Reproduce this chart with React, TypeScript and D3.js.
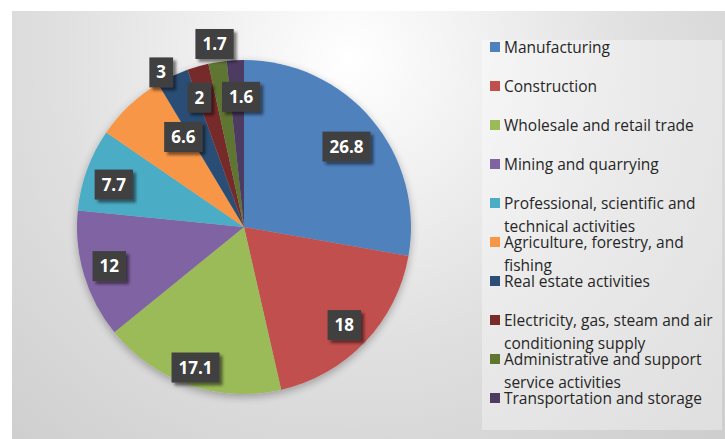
import React from "react";
import * as d3 from "d3";

const categories = [
  "Manufacturing",
  "Construction",
  "Wholesale and retail trade",
  "Mining and quarrying",
  "Professional, scientific and\ntechnical activities",
  "Agriculture, forestry, and\nfishing",
  "Real estate activities",
  "Electricity, gas, steam and air\nconditioning supply",
  "Administrative and support\nservice activities",
  "Transportation and storage",
];
const values = [26.8, 18, 17.1, 12, 7.7, 6.6, 3, 2, 1.7, 1.6];
const colors = [
  "#4F81BD", "#C0504D", "#9BBB59", "#8064A2", "#4BACC6",
  "#F79646", "#2C4D75", "#772C2A", "#5F7530", "#4D3B62",
];
// label placement (layout): distance as a fraction of the radius, angular shift in degrees
const labelRadius = [0.78, 0.84, 0.89, 0.84, 0.82, 0.65, 1.05, 0.82, 1.11, 0.78];
const labelShift = [1.9, 0.8, 0, 0.5, -2, 9.3, -2.8, -3, 0, 1.7];

const W = 725, H = 439;
const cx = 244, cy = 227, R = 167;

function textWidth(s: string, size: number) {
  let w = 0;
  for (const ch of s) w += ch === "." ? 0.285 : 0.572;
  return w * size;
}

export default function App() {
  const pie = d3.pie<number>().sort(null).value((d) => d)(values);
  const arc = d3.arc<d3.PieArcDatum<number>>().innerRadius(0).outerRadius(R);
  const legendTop = 47, legendStep = 39, lineH = 23.5;
  return (
    <svg width={W} height={H} style={{ position: "absolute", left: 0, top: 0 }}>
      <defs>
        <radialGradient id="bg" gradientUnits="userSpaceOnUse" cx={350} cy={60} r={520}>
          <stop offset="0" stopColor="#ffffff" />
          <stop offset="0.55" stopColor="#e0e0e0" />
          <stop offset="1" stopColor="#cecece" />
        </radialGradient>
        <filter id="pieShadow" x="-20%" y="-20%" width="140%" height="140%">
          <feGaussianBlur in="SourceAlpha" stdDeviation="4" />
          <feOffset dx="0" dy="3" result="b" />
          <feComponentTransfer><feFuncA type="linear" slope="0.3" /></feComponentTransfer>
          <feMerge><feMergeNode /><feMergeNode in="SourceGraphic" /></feMerge>
        </filter>
        <filter id="boxShadow" x="-30%" y="-30%" width="160%" height="160%">
          <feGaussianBlur in="SourceAlpha" stdDeviation="1.8" />
          <feOffset dx="2.5" dy="2.5" />
          <feComponentTransfer><feFuncA type="linear" slope="0.5" /></feComponentTransfer>
          <feMerge><feMergeNode /><feMergeNode in="SourceGraphic" /></feMerge>
        </filter>
      </defs>
      <rect x={0} y={0} width={W} height={H} fill="#ffffff" />
      <rect x={12} y={11} width={W - 12} height={H - 11} fill="url(#bg)" />
      <rect x={482} y={40} width={240} height={390} fill="#ffffff" fillOpacity={0.35} />
      <g transform={`translate(${cx},${cy})`} filter="url(#pieShadow)">
        {pie.map((p, i) => (
          <path key={i} d={arc(p) || ""} fill={colors[i]} />
        ))}
      </g>
      <g fontFamily="'Open Sans', sans-serif" fontWeight="bold" fontSize={17}>
        {pie.map((p, i) => {
          const a = (p.startAngle + p.endAngle) / 2 + (labelShift[i] * Math.PI) / 180;
          const r = R * labelRadius[i];
          const x = cx + r * Math.sin(a);
          const y = cy - r * Math.cos(a);
          const t = String(values[i]);
          const bw = textWidth(t, 17) + 14;
          const bh = 30;
          return (
            <g key={i}>
              <rect x={x - bw / 2} y={y - bh / 2} width={bw} height={bh} fill="#3f3f3f" filter="url(#boxShadow)" />
              <text x={x} y={y + 6} textAnchor="middle" fill="#ffffff">{t}</text>
            </g>
          );
        })}
      </g>
      <g fontFamily="'Open Sans', sans-serif" fontSize={15.5} fill="#262626">
        {categories.map((c, i) => {
          const yc = legendTop + legendStep * i;
          const lines = c.split("\n");
          return (
            <g key={i}>
              <rect x={490} y={yc - 5} width={10} height={10} fill={colors[i]} />
              {lines.map((l, j) => (
                <text key={j} x={504} y={yc + 5.5 + j * lineH}>{l}</text>
              ))}
            </g>
          );
        })}
      </g>
    </svg>
  );
}
